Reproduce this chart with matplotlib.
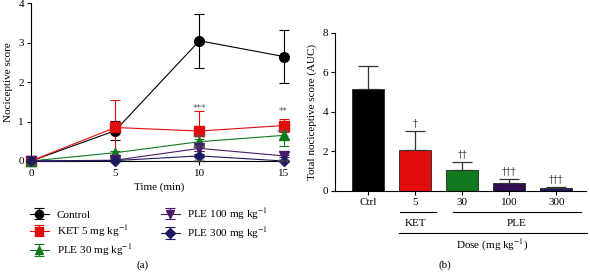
import numpy as np
import matplotlib.pyplot as plt

plt.rcParams['font.family'] = ['Liberation Serif', 'DejaVu Serif']
plt.rcParams['font.size'] = 8
plt.rcParams['mathtext.fontset'] = 'stix'

# panel (a): time course
times = [0, 5, 10, 15]
control = [0, 0.77, 3.05, 2.65]
control_err = [0, 0.24, 0.68, 0.68]
ket = [0, 0.85, 0.76, 0.9]
ket_err = [0, 0.7, 0.5, 0.17]
ple30 = [0, 0.21, 0.49, 0.65]
ple30_err = [0, 0.05, 0.08, 0.28]
ple100 = [0, 0.02, 0.32, 0.13]
ple100_err = [0, 0.02, 0.06, 0.03]
ple300 = [0, 0.01, 0.13, 0.0]
ple300_err = [0, 0.01, 0.04, 0.01]

# panel (b): AUC
doses = ['Ctrl', '5', '30', '100', '300']
auc = [5.15, 2.05, 1.05, 0.37, 0.12]
auc_err = [1.18, 0.95, 0.4, 0.22, 0.08]
daggers = ['', '\u2020', '\u2020\u2020', '\u2020\u2020\u2020', '\u2020\u2020\u2020']

kg = r'mg kg$^{-1}$'
series = [
    ('Control', control, control_err, 'black', 'o'),
    ('KET 5 ' + kg, ket, ket_err, '#e00d0d', 's'),
    ('PLE 30 ' + kg, ple30, ple30_err, '#117a1e', '^'),
    ('PLE 100 ' + kg, ple100, ple100_err, '#4a1a6b', 'v'),
    ('PLE 300 ' + kg, ple300, ple300_err, '#1b1a5e', 'D'),
]

fig = plt.figure(figsize=(5.9, 2.72), dpi=100)

ax = fig.add_axes([31 / 590, 111 / 272, 256 / 590, 157.7 / 272])
handles = []
for name, vals, err, col, mk in series:
    ms = 5.5 if mk == 'D' else 7
    h = ax.errorbar(times, vals, yerr=err, color=col, marker=mk, ms=ms,
                    lw=0.8, elinewidth=0.8, capsize=3.5, capthick=0.8,
                    clip_on=False, label=name, zorder=3)
    handles.append(h)
ax.set_xlim(0, 15.2)
ax.set_ylim(0, 4)
ax.set_xticks([0, 5, 10, 15])
ax.set_yticks([0, 1, 2, 3, 4])
ax.spines['top'].set_visible(False)
ax.spines['right'].set_visible(False)
ax.tick_params(length=3, width=0.8, pad=2)
ax.tick_params(axis='x', pad=3)
ax.set_xlabel('Time (min)', labelpad=3)
ax.set_ylabel('Nociceptive score', labelpad=4)

star_col = '#555555'
stars = [(10, 1.33, '***'), (15, 1.26, '**'), (10, 0.57, '***'), (15, 0.71, '***'),
         (10, 0.3, '***'), (10, -0.07, '***'), (15, -0.07, '***')]
for x, y, s in stars:
    ax.text(x, y, s, ha='center', va='center', color=star_col, fontsize=6.5,
            family='DejaVu Sans', zorder=4, clip_on=False)

fig.legend(handles=handles, loc='upper left', bbox_to_anchor=(20 / 590, 1 - 196 / 272),
           ncol=2, frameon=False, handlelength=1.7, handletextpad=0.7,
           columnspacing=2.6, labelspacing=0.3, fontsize=8, markerscale=0.85)
fig.text(143 / 590, 1 - 265 / 272, '(a)', ha='center', va='center')

# panel (b)
bx = fig.add_axes([335 / 590, 81.3 / 272, 251 / 590, 158 / 272])
pos = np.arange(len(doses))
bar_cols = ['black', '#e00d0d', '#117a1e', '#2e0d52', '#1b1a5e']
bx.bar(pos, auc, width=0.68, color=bar_cols, edgecolor='#222222', lw=0.6, zorder=2)
bx.errorbar(pos, auc, yerr=[np.zeros(len(auc)), auc_err], fmt='none',
            ecolor='#333333', elinewidth=0.9, capsize=7, capthick=0.9, zorder=3)
for p, a, e, d in zip(pos, auc, auc_err, daggers):
    if d:
        bx.text(p, a + e + 0.15, d, ha='center', va='bottom', color=star_col,
                fontsize=7, family='DejaVu Sans')
bx.set_xlim(-0.71, 4.63)
bx.set_ylim(0, 8)
bx.set_yticks([0, 2, 4, 6, 8])
bx.set_xticks(pos)
bx.set_xticklabels(doses)
bx.spines['top'].set_visible(False)
bx.spines['right'].set_visible(False)
bx.tick_params(length=3, width=0.8, pad=2)
bx.set_ylabel('Total nociceptive score (AUC)', labelpad=4)

tr = bx.transData
bx.plot([0.67, 1.44], [-1.08, -1.08], color='black', lw=0.8, clip_on=False, transform=tr)
bx.plot([1.8, 4.52], [-1.08, -1.08], color='black', lw=0.8, clip_on=False, transform=tr)
bx.plot([0.65, 4.65], [-2.14, -2.14], color='black', lw=0.8, clip_on=False, transform=tr)
bx.text(1.0, -1.65, 'KET', ha='center', va='center', clip_on=False)
bx.text(3.16, -1.65, 'PLE', ha='center', va='center', clip_on=False)
bx.text(2.63, -2.75, 'Dose (' + kg + ')', ha='center', va='center', clip_on=False)
fig.text(445 / 590, 1 - 265 / 272, '(b)', ha='center', va='center')

fig.savefig('out.png', dpi=100)
